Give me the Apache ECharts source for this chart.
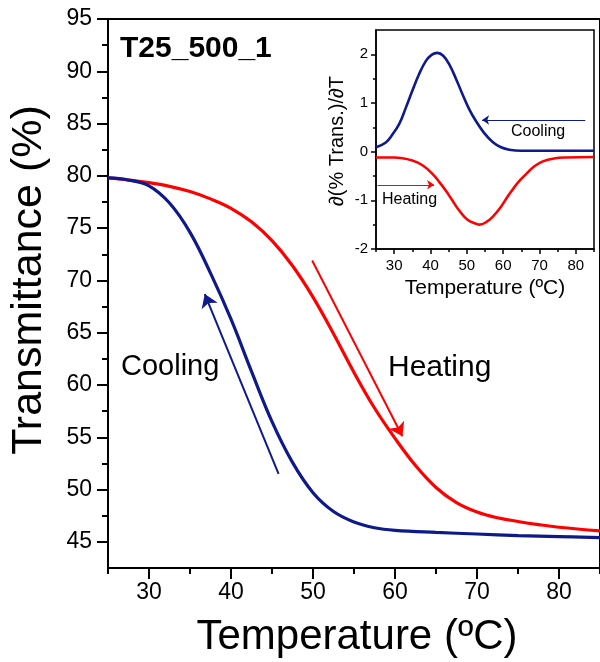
<!DOCTYPE html>
<html>
<head>
<meta charset="utf-8">
<script src="https://cdn.jsdelivr.net/npm/echarts@6/dist/echarts.min.js"></script>
<style>html,body{margin:0;padding:0;background:#fff;}#c{width:600px;height:662px;}</style>
</head>
<body>
<div id="c"></div>
<script>
// ---- main plot data (Temperature ºC, Transmittance %) ----
var coolMainT = [25, 27.5, 30, 32.5, 35, 37.5, 40, 42.5, 45, 47.5, 50, 52.5, 55, 57.5, 60, 65, 70, 75, 80, 85];
var coolMainV = [79.8, 79.6, 79.05, 77.4, 74.6, 70.7, 66.3, 61.3, 56.5, 52.6, 49.7, 47.9, 46.9, 46.35, 46.1, 45.9, 45.75, 45.6, 45.5, 45.4];
var heatMainT = [25, 27.5, 30, 32.5, 35, 37.5, 40, 42.5, 45, 47.5, 50, 52.5, 55, 57.5, 60, 62.5, 65, 67.5, 70, 72.5, 75, 77.5, 80, 85];
var heatMainV = [79.8, 79.6, 79.35, 79.0, 78.5, 77.8, 76.9, 75.6, 73.8, 71.4, 68.4, 64.9, 61.2, 57.8, 54.9, 52.3, 50.2, 48.75, 47.85, 47.3, 46.95, 46.65, 46.4, 46.05];

// ---- inset data (Temperature ºC, derivative) ----
var coolInsetT = [25, 27.7, 29.5, 31.4, 33.2, 35, 36.9, 38.7, 40.3, 41.9, 43.5, 45.2, 47, 48.8, 50.6, 52.5, 54.8, 57.1, 59.4, 61.7, 65, 70, 85];
var coolInsetV = [0.09, 0.19, 0.35, 0.57, 0.9, 1.25, 1.6, 1.86, 1.99, 2.03, 1.97, 1.79, 1.5, 1.18, 0.88, 0.63, 0.38, 0.2, 0.09, 0.04, 0.02, 0.02, 0.02];
var heatInsetT = [25, 30, 35, 37.8, 40.6, 42.4, 44.2, 46, 47.9, 50.2, 52.5, 53.5, 55.3, 57.1, 59.4, 61.7, 64, 66.3, 68.6, 70.9, 74, 77.3, 85];
var heatInsetV = [-0.12, -0.12, -0.18, -0.28, -0.46, -0.62, -0.8, -1.0, -1.21, -1.4, -1.48, -1.5, -1.45, -1.34, -1.13, -0.87, -0.64, -0.46, -0.3, -0.2, -0.14, -0.12, -0.11];

// ---- tick values ----
var mainXLabels = [30, 40, 50, 60, 70, 80];
var mainXMinor = [25, 35, 45, 55, 65, 75, 85];
var mainYLabels = [45, 50, 55, 60, 65, 70, 75, 80, 85, 90, 95];
var mainYMinor = [47.5, 52.5, 57.5, 62.5, 67.5, 72.5, 77.5, 82.5, 87.5, 92.5];
var insetXLabels = [30, 40, 50, 60, 70, 80];
var insetXMinor = [25, 35, 45, 55, 65, 75, 85];
var insetYLabels = [-2, -1, 0, 1, 2];
var insetYMinor = [-1.5, -0.5, 0.5, 1.5];

// ---- arrow endpoints (data units: [T, value]) ----
var coolMainArrow = [[45.8, 51.5], [36.8, 68.7]];
var heatMainArrow = [[49.9, 71.9], [60.9, 55.1]];
var coolInsetArrow = [[82.6, 0.65], [54.2, 0.65]];
var heatInsetArrow = [[25.4, -0.68], [41.0, -0.68]];

function pairs(t, v) { return t.map(function (x, i) { return [x, v[i]]; }); }

var FONT = "'Liberation Sans', Arial, Helvetica, sans-serif";
var BLUE = '#0f1a8a';
var RED = '#ff0000';

function arrowLine(pts, color, width, size) {
  return {
    silent: true,
    animation: false,
    symbol: ['none', 'arrow'],
    symbolSize: size,
    label: { show: false },
    lineStyle: { color: color, width: width, type: 'solid' },
    itemStyle: { color: color },
    emphasis: { disabled: true },
    data: [[{ coord: pts[0] }, { coord: pts[1] }]]
  };
}

var chart = echarts.init(document.getElementById('c'), null, { renderer: 'canvas' });

var option = {
  animation: false,
  backgroundColor: '#fff',
  textStyle: { fontFamily: FONT },
  grid: [
    { left: 108, top: 19, width: 497, height: 549, show: true, borderColor: '#000', borderWidth: 2, backgroundColor: 'transparent', containLabel: false },
    { left: 376, top: 30, width: 218, height: 219, show: true, borderColor: '#000', borderWidth: 1.5, backgroundColor: 'transparent', containLabel: false }
  ],
  xAxis: [
    { type: 'value', gridIndex: 0, min: 25, max: 85, position: 'bottom',
      axisLine: { show: true, onZero: false, lineStyle: { color: '#000', width: 2 } },
      axisTick: { show: true, customValues: mainXLabels, length: 11, lineStyle: { color: '#000', width: 2 } },
      axisLabel: { show: true, customValues: mainXLabels, margin: 13, fontSize: 23, color: '#000', fontFamily: FONT },
      splitLine: { show: false } },
    { type: 'value', gridIndex: 0, min: 25, max: 85, position: 'bottom',
      axisLine: { show: false, onZero: false },
      axisTick: { show: true, customValues: mainXMinor, length: 6, lineStyle: { color: '#000', width: 2 } },
      axisLabel: { show: false }, splitLine: { show: false } },
    { type: 'value', gridIndex: 1, min: 25, max: 85, position: 'bottom',
      axisLine: { show: true, onZero: false, lineStyle: { color: '#000', width: 1.5 } },
      axisTick: { show: true, customValues: insetXLabels, length: 5, lineStyle: { color: '#000', width: 1.5 } },
      axisLabel: { show: true, customValues: insetXLabels, margin: 9, fontSize: 15, color: '#000', fontFamily: FONT },
      splitLine: { show: false } },
    { type: 'value', gridIndex: 1, min: 25, max: 85, position: 'bottom',
      axisLine: { show: false, onZero: false },
      axisTick: { show: true, customValues: insetXMinor, length: 3, lineStyle: { color: '#000', width: 1.5 } },
      axisLabel: { show: false }, splitLine: { show: false } }
  ],
  yAxis: [
    { type: 'value', gridIndex: 0, min: 42.5, max: 95, position: 'left',
      axisLine: { show: true, onZero: false, lineStyle: { color: '#000', width: 2 } },
      axisTick: { show: true, customValues: mainYLabels, length: 11, lineStyle: { color: '#000', width: 2 } },
      axisLabel: { show: true, customValues: mainYLabels, margin: 16, fontSize: 23, color: '#000', fontFamily: FONT },
      splitLine: { show: false } },
    { type: 'value', gridIndex: 0, min: 42.5, max: 95, position: 'left',
      axisLine: { show: false, onZero: false },
      axisTick: { show: true, customValues: mainYMinor, length: 6, lineStyle: { color: '#000', width: 2 } },
      axisLabel: { show: false }, splitLine: { show: false } },
    { type: 'value', gridIndex: 1, min: -2, max: 2.5, position: 'left',
      axisLine: { show: true, onZero: false, lineStyle: { color: '#000', width: 1.5 } },
      axisTick: { show: true, customValues: insetYLabels, length: 5, lineStyle: { color: '#000', width: 1.5 } },
      axisLabel: { show: true, customValues: insetYLabels, margin: 8, fontSize: 15, color: '#000', fontFamily: FONT },
      splitLine: { show: false } },
    { type: 'value', gridIndex: 1, min: -2, max: 2.5, position: 'left',
      axisLine: { show: false, onZero: false },
      axisTick: { show: true, customValues: insetYMinor, length: 3, lineStyle: { color: '#000', width: 1.5 } },
      axisLabel: { show: false }, splitLine: { show: false } }
  ],
  series: [
    { name: 'Heating', type: 'line', xAxisIndex: 0, yAxisIndex: 0, data: pairs(heatMainT, heatMainV),
      showSymbol: false, smooth: 0.4, lineStyle: { color: RED, width: 3.2 }, itemStyle: { color: RED },
      markLine: arrowLine(heatMainArrow, RED, 2, 13) },
    { name: 'Cooling', type: 'line', xAxisIndex: 0, yAxisIndex: 0, data: pairs(coolMainT, coolMainV),
      showSymbol: false, smooth: 0.4, lineStyle: { color: BLUE, width: 3.2 }, itemStyle: { color: BLUE },
      markLine: arrowLine(coolMainArrow, BLUE, 2, 13) },
    { name: 'HeatingD', type: 'line', xAxisIndex: 2, yAxisIndex: 2, data: pairs(heatInsetT, heatInsetV),
      showSymbol: false, smooth: 0.4, lineStyle: { color: RED, width: 2.6 }, itemStyle: { color: RED },
      markLine: arrowLine(heatInsetArrow, RED, 1, 7) },
    { name: 'CoolingD', type: 'line', xAxisIndex: 2, yAxisIndex: 2, data: pairs(coolInsetT, coolInsetV),
      showSymbol: false, smooth: 0.4, lineStyle: { color: BLUE, width: 2.6 }, itemStyle: { color: BLUE },
      markLine: arrowLine(coolInsetArrow, BLUE, 1, 7) }
  ],
  graphic: [
    { type: 'text', x: 120, y: 49, style: { text: 'T25_500_1', fontFamily: FONT, fontSize: 30, fontWeight: 'bold', fill: '#000', align: 'left', verticalAlign: 'middle' } },
    { type: 'text', x: 121, y: 367, style: { text: 'Cooling', fontFamily: FONT, fontSize: 29, fill: '#000', align: 'left', verticalAlign: 'middle' } },
    { type: 'text', x: 388, y: 368, style: { text: 'Heating', fontFamily: FONT, fontSize: 30, fill: '#000', align: 'left', verticalAlign: 'middle' } },
    { type: 'text', x: 357, y: 637, style: { text: 'Temperature (ºC)', fontFamily: FONT, fontSize: 42, fill: '#000', align: 'center', verticalAlign: 'middle' } },
    { type: 'text', x: 29, y: 280, rotation: Math.PI / 2, style: { text: 'Transmittance (%)', fontFamily: FONT, fontSize: 43, fill: '#000', align: 'center', verticalAlign: 'middle' } },
    { type: 'text', x: 511, y: 132, style: { text: 'Cooling', fontFamily: FONT, fontSize: 16, fill: '#000', align: 'left', verticalAlign: 'middle' } },
    { type: 'text', x: 382, y: 200, style: { text: 'Heating', fontFamily: FONT, fontSize: 16, fill: '#000', align: 'left', verticalAlign: 'middle' } },
    { type: 'text', x: 485, y: 288, style: { text: 'Temperature (ºC)', fontFamily: FONT, fontSize: 21, fill: '#000', align: 'center', verticalAlign: 'middle' } },
    { type: 'text', x: 337, y: 141, rotation: Math.PI / 2, style: { text: '∂(% Trans.)/∂T', fontFamily: FONT, fontSize: 20, fill: '#000', align: 'center', verticalAlign: 'middle' } }
  ]
};
chart.setOption(option);
</script>
</body>
</html>
